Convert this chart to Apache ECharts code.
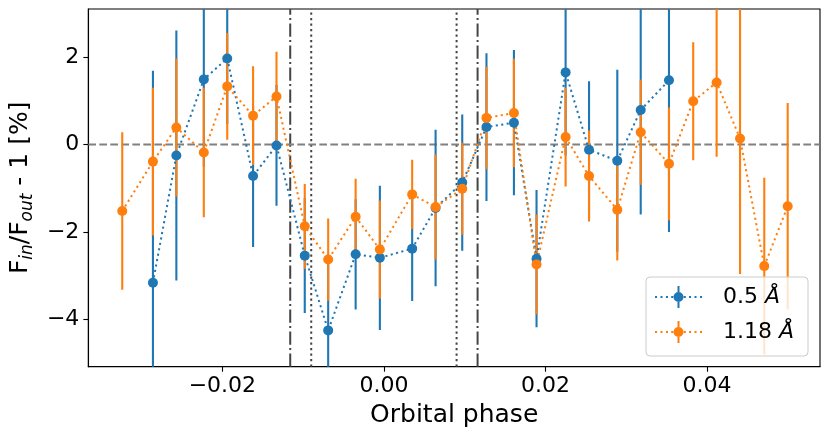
<!DOCTYPE html>
<html><head><meta charset="utf-8">
<script src="https://cdn.jsdelivr.net/npm/echarts@6/dist/echarts.min.js"></script>
<style>html,body{margin:0;padding:0;background:#fff}#c{width:830px;height:440px}</style>
</head><body><div id="c"></div>
<script>
const phase = [-0.0324, -0.0286, -0.0257, -0.0223, -0.0194, -0.0162, -0.0133, -0.0098, -0.0069, -0.0035, -0.0005, 0.0035, 0.0064, 0.0097, 0.0127, 0.0161, 0.0189, 0.0225, 0.0254, 0.0289, 0.0318, 0.0353, 0.0383, 0.0412, 0.0441, 0.0471, 0.0500];
const blueVal = [null, -3.16, -0.25, 1.49, 1.97, -0.72, -0.02, -2.54, -4.25, -2.51, -2.59, -2.38, -1.45, -0.87, 0.40, 0.50, -2.61, 1.65, -0.12, -0.37, 0.79, 1.47, null, null, null, null, null];
const blueErr = [null, 4.85, 2.86, 2.0, 1.5, 1.62, 1.38, 1.31, 1.5, 1.26, 1.65, 1.20, 1.79, 1.56, 1.69, 1.66, 1.57, 1.9, 1.57, 2.08, 2.39, 3.47, null, null, null, null, null];
const orangeVal = [-1.52, -0.39, 0.39, -0.18, 1.33, 0.66, 1.10, -1.87, -2.63, -1.65, -2.40, -1.14, -1.43, -1.01, 0.61, 0.72, -2.74, 0.17, -0.72, -1.49, 0.28, -0.44, 0.99, 1.42, 0.14, -2.78, -1.41];
const orangeErr = [1.80, 1.69, 1.58, 1.48, 1.22, 1.13, 1.02, 0.97, 0.94, 0.87, 1.12, 0.79, 1.20, 1.05, 1.17, 1.24, 1.14, 1.13, 1.04, 1.16, 1.20, 1.29, 1.35, 1.70, 3.10, 2.02, 2.36];
const seriesLabels = ['0.5', '1.18'];
const unit = 'Å';
const xTicks = [-0.02, 0.00, 0.02, 0.04];
const yTicks = [-4, -2, 0, 2];
const dashDotPhases = [-0.0116, 0.0116];
const dottedPhases = [-0.0090, 0.0090];
const hLineValues = [0];

const X_MIN = -0.0366, X_MAX = 0.0540, Y_MIN = -5.08, Y_MAX = 3.1;
const BLUE = '#1f77b4', ORANGE = '#ff7f0e';
const FONT = 'DejaVu Sans';

function build(vals, errs) {
  const pts = [], bars = [];
  for (let i = 0; i < phase.length; i++) {
    if (vals[i] === null) continue;
    pts.push([phase[i], vals[i]]);
    bars.push([phase[i], vals[i], errs[i]]);
  }
  return {pts, bars};
}
const B = build(blueVal, blueErr);
const O = build(orangeVal, orangeErr);

function errSeries(bars, color) {
  return {
    type: 'custom', z: 2, clip: true, silent: true,
    data: bars,
    renderItem: function (params, api) {
      const x = api.value(0), y = api.value(1), e = api.value(2);
      const p1 = api.coord([x, y - e]);
      const p2 = api.coord([x, y + e]);
      return {type: 'line', shape: {x1: p1[0], y1: p1[1], x2: p2[0], y2: p2[1]},
              style: {stroke: color, lineWidth: 2.1}};
    }
  };
}

function legendIcon() {
  let d = '';
  [0, 5.5, 11, 16.2, 28.8, 34, 39.5, 45].forEach(function (x) {
    d += 'M' + x + ',10h2v2h-2z';
  });
  d += 'M22.5,0h2v6h-2z';
  d += 'M22.5,16h2v6h-2z';
  d += 'M18.5,11a5,5 0 1,1 10,0a5,5 0 1,1 -10,0z';
  return 'path://' + d;
}

const names = seriesLabels.map(function (s) { return s + ' ' + unit; });
const dotted = [2.1, 3.4];

function refSeries(data, color, type) {
  return {type: 'line', z: 1, silent: true, symbol: 'none', clip: true, data: data,
          lineStyle: {color: color, width: 2, type: type}};
}
const refs = [];
dashDotPhases.forEach(function (v) { refs.push(refSeries([[v, Y_MIN], [v, Y_MAX]], '#444', [13.3, 3.3, 2.1, 3.3])); });
dottedPhases.forEach(function (v) { refs.push(refSeries([[v, Y_MIN], [v, Y_MAX]], '#444', [2.1, 3.4])); });
hLineValues.forEach(function (v) { refs.push(refSeries([[X_MIN, v], [X_MAX, v]], '#808080', [7.7, 3.3])); });

const chart = echarts.init(document.getElementById('c'), null, {renderer: 'canvas'});
chart.setOption({
  animation: false,
  backgroundColor: '#fff',
  textStyle: {fontFamily: FONT},
  grid: {left: 85, right: 10, top: 9, bottom: 73.3, show: true, borderColor: '#000', borderWidth: 1.1, backgroundColor: 'transparent'},
  xAxis: {
    type: 'value', min: X_MIN, max: X_MAX,
    name: 'Orbital phase', nameLocation: 'middle', nameGap: 27,
    nameTextStyle: {fontSize: 25, color: '#000', fontFamily: FONT},
    axisLine: {show: true, onZero: false, lineStyle: {color: '#000', width: 1.1}},
    axisTick: {show: true, length: 5, customValues: xTicks, lineStyle: {color: '#000', width: 1.1}},
    axisLabel: {customValues: xTicks, fontSize: 22, color: '#000', fontFamily: FONT, margin: 9,
      formatter: function (v) { return (v < 0 ? '\u2212' : '') + Math.abs(v).toFixed(2); }},
    splitLine: {show: false}
  },
  yAxis: {
    type: 'value', min: Y_MIN, max: Y_MAX,
    name: '{n|F}{s|in}{n|/F}{s|out}{n| - 1 [%]}', nameLocation: 'middle', nameGap: 46, nameRotate: 90,
    nameTextStyle: {fontSize: 25, color: '#000', fontFamily: FONT,
      rich: {
        n: {fontSize: 25, lineHeight: 30, verticalAlign: 'top', fontFamily: FONT, color: '#000'},
        s: {fontSize: 17, lineHeight: 20, verticalAlign: 'top', padding: [11, 0, 0, 0], fontStyle: 'italic', fontFamily: FONT, color: '#000'}
      }},
    axisLine: {show: true, onZero: false, lineStyle: {color: '#000', width: 1.1}},
    axisTick: {show: true, length: 5, customValues: yTicks, lineStyle: {color: '#000', width: 1.1}},
    axisLabel: {customValues: yTicks, fontSize: 22, color: '#000', fontFamily: FONT, margin: 9,
      formatter: function (v) { return (v < 0 ? '\u2212' : '') + Math.abs(v); }},
    splitLine: {show: false}
  },
  legend: {
    orient: 'vertical', left: 646, top: 277,
    padding: [9, 14, 13, 9], itemGap: 13, itemWidth: 47, itemHeight: 22,
    backgroundColor: 'rgba(255,255,255,0.8)', borderColor: '#cccccc', borderWidth: 1, borderRadius: 4,
    data: [
      {name: names[0], icon: legendIcon(), itemStyle: {color: BLUE}},
      {name: names[1], icon: legendIcon(), itemStyle: {color: ORANGE}}
    ],
    formatter: function (name) {
      const parts = name.split(' ');
      return '{t|' + parts[0] + ' }{i|' + parts[1] + '}';
    },
    textStyle: {fontSize: 22, color: '#000', fontFamily: FONT, padding: [0, 0, 0, 16],
      rich: {t: {fontSize: 22, fontFamily: FONT, color: '#000'}, i: {fontSize: 22, fontStyle: 'italic', fontFamily: FONT, color: '#000'}}},
    selectedMode: false
  },
  series: refs.concat([
    errSeries(B.bars, BLUE),
    errSeries(O.bars, ORANGE),
    {name: names[0], type: 'line', z: 4, data: B.pts, symbol: 'circle', symbolSize: 10, showSymbol: true,
     itemStyle: {color: BLUE}, lineStyle: {color: BLUE, width: 2, type: dotted}},
    {name: names[1], type: 'line', z: 4, data: O.pts, symbol: 'circle', symbolSize: 10, showSymbol: true,
     itemStyle: {color: ORANGE}, lineStyle: {color: ORANGE, width: 2, type: dotted}}
  ])
});
</script></body></html>
